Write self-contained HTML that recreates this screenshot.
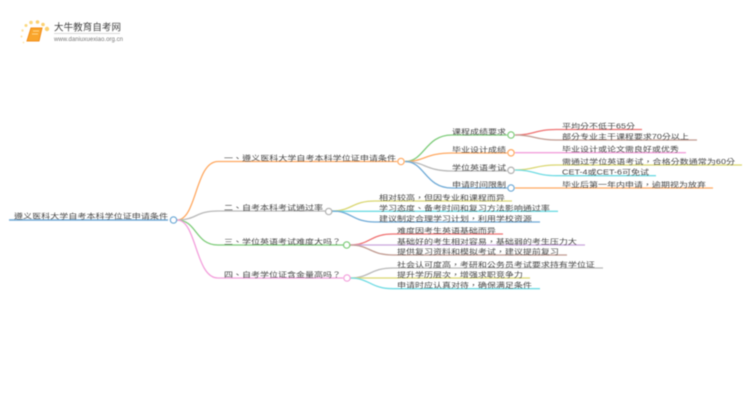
<!DOCTYPE html>
<html><head><meta charset="utf-8"><style>
html,body{margin:0;padding:0;background:#fff}
svg{display:block}
#m{filter:blur(.4px)}
text{font-family:"Liberation Sans","Noto Sans CJK TC",sans-serif;font-size:9px;fill:#444}
path{fill:none;stroke-width:1.3}
circle{fill:#fff;stroke-width:1.2}
</style></head><body>
<svg width="750" height="410" viewBox="0 0 750 410" xmlns="http://www.w3.org/2000/svg">
<g id="m">
<!-- logo -->
<circle cx="47" cy="29" r="2.200" style="fill:#fbd070;stroke:none"/><circle cx="43" cy="24.500" r="1.800" style="fill:#fbd070;stroke:none"/>
<circle cx="37.500" cy="22" r="1.800" style="fill:#fbd070;stroke:none"/><circle cx="31" cy="22.500" r="1.800" style="fill:#fbd880;stroke:none"/>
<circle cx="26" cy="25.500" r="1.500" style="fill:#fbd880;stroke:none"/><circle cx="22.500" cy="30.500" r="1.200" style="fill:#fde2a4;stroke:none"/>
<circle cx="21.500" cy="36.500" r="1" style="fill:#fde2a4;stroke:none"/><circle cx="23.500" cy="42.500" r="1" style="fill:#fdeac0;stroke:none"/>
<path d="M31 28H42L39 41H27Z" style="fill:#f9a52c;stroke:#f28c18;stroke-width:1"/>
<path d="M33 31H39M32 34H38" style="stroke:#ffd58a;stroke-width:1"/>
<text x="54" y="30.500" textLength="67" style="font-size:9.500px;fill:#444">大牛教育自考网</text>
<path d="M54 33.500H120" style="stroke:#ccc;stroke-width:.7"/>
<text x="54" y="41" textLength="69" style="font-size:6px;fill:#777">www.daniuxuexiao.org.cn</text>

<!-- connectors level 0 -->
<path d="M9 220H168" style="stroke:#6fa8d6;stroke-width:1.6"/>
<path d="M177 220C197 220 195 161.500 218 161.500H397" stroke="#ffa860"/>
<path d="M177 220C197 220 195 211 218 211H325" stroke="#b8b8b8"/>
<path d="M177 220C197 220 195 245 218 245H343" stroke="#7ccb78"/>
<path d="M177 220C197 220 195 278 218 278H343" stroke="#f3a0dc"/>

<!-- branch 1 -->
<path d="M405 161.500C425 161.500 425 135 452 135H507" stroke="#7ccb78"/>
<path d="M405 161.500C425 161.500 425 153 452 153H507" stroke="#ffa860"/>
<path d="M405 161.500C425 161.500 425 171 452 171H507" stroke="#b8b8b8"/>
<path d="M405 161.500C425 161.500 425 188 452 188H507" stroke="#6da9d6"/>
<path d="M515 135C535 135 535 129.500 556 129.500H642" stroke="#ef7070"/>
<path d="M515 135C535 135 535 140 556 140H697" stroke="#c09a90"/>
<path d="M515 152.700H686" stroke="#f3a0dc"/>
<path d="M515 170C535 170 535 165 556 165H742" stroke="#d9d66f"/>
<path d="M515 170C535 170 535 175.700 556 175.700H656" stroke="#6fdbe3"/>
<path d="M515 188H713" stroke="#ffa860"/>

<!-- branch 2 -->
<path d="M332 211C352 211 352 201 375 201H512" stroke="#d9d66f"/>
<path d="M332 211.300H558" stroke="#6fdbe3"/>
<path d="M332 211C352 211 352 222 375 222H540" stroke="#6da9d6"/>

<!-- branch 3 -->
<path d="M350 245C370 245 370 234 393 234H503" stroke="#ef7070"/>
<path d="M350 245H585" stroke="#c9a4dc"/>
<path d="M350 245C370 245 370 255 393 255H567" stroke="#c09a90"/>

<!-- branch 4 -->
<path d="M350 278C370 278 370 268 393 268H603" stroke="#b8b8b8"/>
<path d="M350 278H530" stroke="#d9d66f"/>
<path d="M350 278C370 278 370 288.700 393 288.700H540" stroke="#6fdbe3"/>

<!-- nodes -->
<circle cx="173.500" cy="220" r="3.200" stroke="#6da9d6"/>
<circle cx="401" cy="161.500" r="3.200" stroke="#ffa860"/>
<circle cx="328.700" cy="211.500" r="3.200" stroke="#b0b0b0"/>
<circle cx="346.700" cy="245" r="3.200" stroke="#7ccb78"/>
<circle cx="347" cy="278" r="3.200" stroke="#f3a0dc"/>
<circle cx="511" cy="135" r="3.200" stroke="#7ccb78"/>
<circle cx="511" cy="152.800" r="3.200" stroke="#ffa860"/>
<circle cx="511" cy="170.300" r="3.200" stroke="#b0b0b0"/>
<circle cx="511" cy="188" r="3.200" stroke="#6da9d6"/>

<!-- labels -->
<text transform="translate(14 218.500) scale(1 .78)" textLength="154">遵义医科大学自考本科学位证申请条件</text>
<text transform="translate(224 160.300) scale(1 .78)" textLength="172">一、遵义医科大学自考本科学位证申请条件</text>
<text transform="translate(224 210) scale(1 .78)" textLength="99">二、自考本科考试通过率</text>
<text transform="translate(224 244) scale(1 .78)" textLength="117">三、学位英语考试难度大吗？</text>
<text transform="translate(224 277) scale(1 .78)" textLength="117">四、自考学位证含金量高吗？</text>

<text transform="translate(452 134) scale(1 .78)">课程成绩要求</text>
<text transform="translate(452 152) scale(1 .78)">毕业设计成绩</text>
<text transform="translate(452 170) scale(1 .78)">学位英语考试</text>
<text transform="translate(452 187) scale(1 .78)">申请时间限制</text>

<text transform="translate(562 128.500) scale(1 .78)">平均分不低于65分</text>
<text transform="translate(562 139) scale(1 .78)">部分专业主干课程要求70分以上</text>
<text transform="translate(562 151.700) scale(1 .78)">毕业设计或论文需良好或优秀</text>
<text transform="translate(562 164) scale(1 .78)" textLength="173">需通过学位英语考试，合格分数通常为60分</text>
<text transform="translate(562 174.700) scale(1 .78)" textLength="87">CET-4或CET-6可免试</text>
<text transform="translate(562 187) scale(1 .78)">毕业后第一年内申请，逾期视为放弃</text>

<text transform="translate(379 200) scale(1 .78)">相对较高，但因专业和课程而异</text>
<text transform="translate(379 210.300) scale(1 .78)">学习态度、备考时间和复习方法影响通过率</text>
<text transform="translate(379 221) scale(1 .78)">建议制定合理学习计划，利用学校资源</text>

<text transform="translate(397 233) scale(1 .78)">难度因考生英语基础而异</text>
<text transform="translate(397 244) scale(1 .78)">基础好的考生相对容易，基础弱的考生压力大</text>
<text transform="translate(397 254) scale(1 .78)">提供复习资料和模拟考试，建议提前复习</text>

<text transform="translate(397 267) scale(1 .78)">社会认可度高，考研和公务员考试要求持有学位证</text>
<text transform="translate(397 277) scale(1 .78)">提升学历层次，增强求职竞争力</text>
<text transform="translate(397 287.700) scale(1 .78)">申请时应认真对待，确保满足条件</text>
</g>
</svg>
</body></html>
